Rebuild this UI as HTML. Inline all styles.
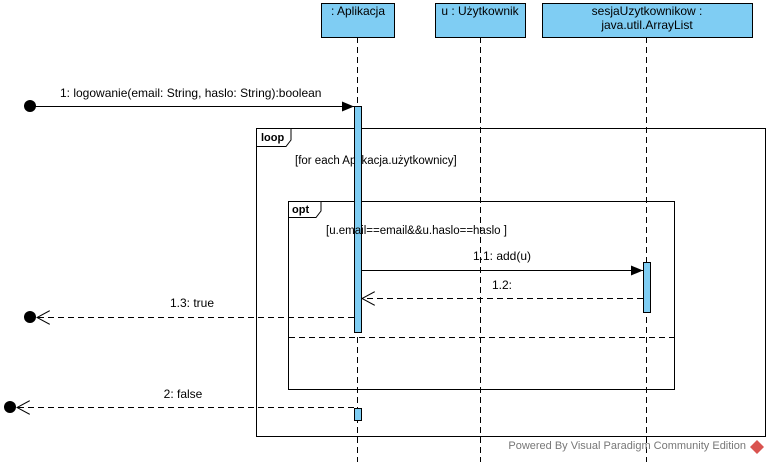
<!DOCTYPE html>
<html><head><meta charset="utf-8"><style>
body{margin:0;background:#fff;}
svg{display:block;font-family:"Liberation Sans","DejaVu Sans",sans-serif;}
</style></head><body>
<svg width="769" height="462" xmlns="http://www.w3.org/2000/svg">
<defs>
<marker id="fa" markerWidth="12" markerHeight="10" refX="12" refY="5" orient="auto" markerUnits="userSpaceOnUse"><path d="M0,0 L12,5 L0,10 z" fill="#000"/></marker>
<marker id="oa" markerWidth="14" markerHeight="14" refX="13" refY="7" orient="auto" markerUnits="userSpaceOnUse"><path d="M0,0 L13,7 L0,14" fill="none" stroke="#000" stroke-width="1"/></marker>
</defs>
<g stroke="#000" stroke-width="1" stroke-dasharray="6,4" fill="none">
<line x1="357.5" y1="37" x2="357.5" y2="462"/>
<line x1="480.5" y1="37" x2="480.5" y2="462"/>
<line x1="646.5" y1="37" x2="646.5" y2="462"/>
</g>
<g fill="#7fcdf3" stroke="#000" stroke-width="1">
<rect x="321.5" y="3.5" width="73" height="34"/>
<rect x="435.5" y="3.5" width="90" height="34"/>
<rect x="542.5" y="3.5" width="210" height="34"/>
</g>
<g font-size="12" text-anchor="middle" fill="#000">
<text x="358" y="15">: Aplikacja</text>
<text x="480" y="15">u : Użytkownik</text>
<text x="647" y="15">sesjaUzytkownikow :</text>
<text x="647" y="29">java.util.ArrayList</text>
</g>
<rect x="256.5" y="128.5" width="509" height="308" fill="none" stroke="#000"/>
<path d="M256.5,146.5 H286 L291,140 V128.5" fill="#fff" stroke="#000"/>
<text x="261" y="141" font-size="11" font-weight="bold">loop</text>
<text x="295" y="164" font-size="11.5">[for each Aplikacja.użytkownicy]</text>
<rect x="288.5" y="201.5" width="386" height="188" fill="none" stroke="#000"/>
<path d="M288.5,217.5 H316 L321,211 V201.5" fill="#fff" stroke="#000"/>
<text x="292" y="213" font-size="11" font-weight="bold">opt</text>
<line x1="289" y1="337.5" x2="674" y2="337.5" stroke="#000" stroke-dasharray="6,4"/>
<g fill="#7fcdf3" stroke="#000">
<rect x="354.5" y="106.5" width="7" height="226"/>
<rect x="354.5" y="408.5" width="7" height="12"/>
<rect x="643.5" y="262.5" width="7" height="50"/>
</g>
<text x="326" y="234" font-size="11.5" fill="#000">[u.email==email&amp;&amp;u.haslo==haslo ]</text>
<circle cx="30" cy="106" r="6" fill="#000"/>
<line x1="30" y1="106.5" x2="354" y2="106.5" stroke="#000" marker-end="url(#fa)"/>
<text x="60" y="97" font-size="12">1: logowanie(email: String, haslo: String):boolean</text>
<line x1="362" y1="270.5" x2="643" y2="270.5" stroke="#000" marker-end="url(#fa)"/>
<text x="502" y="260" font-size="12" text-anchor="middle">1.1: add(u)</text>
<line x1="643" y1="298.5" x2="362" y2="298.5" stroke="#000" stroke-dasharray="6,4" marker-end="url(#oa)"/>
<text x="502" y="289" font-size="12" text-anchor="middle">1.2:</text>
<circle cx="30" cy="317" r="6" fill="#000"/>
<line x1="354" y1="317.5" x2="37" y2="317.5" stroke="#000" stroke-dasharray="6,4" marker-end="url(#oa)"/>
<text x="192" y="307" font-size="12" text-anchor="middle">1.3: true</text>
<circle cx="10" cy="407" r="6" fill="#000"/>
<line x1="354" y1="407.5" x2="17" y2="407.5" stroke="#000" stroke-dasharray="6,4" marker-end="url(#oa)"/>
<text x="183" y="398" font-size="12" text-anchor="middle">2: false</text>
<text x="746" y="449" font-size="11" fill="#777" text-anchor="end">Powered By Visual Paradigm Community Edition</text>
<path d="M757,440 L764,447 L757,454 L750,447 z" fill="#d9534f"/>
</svg>
</body></html>
